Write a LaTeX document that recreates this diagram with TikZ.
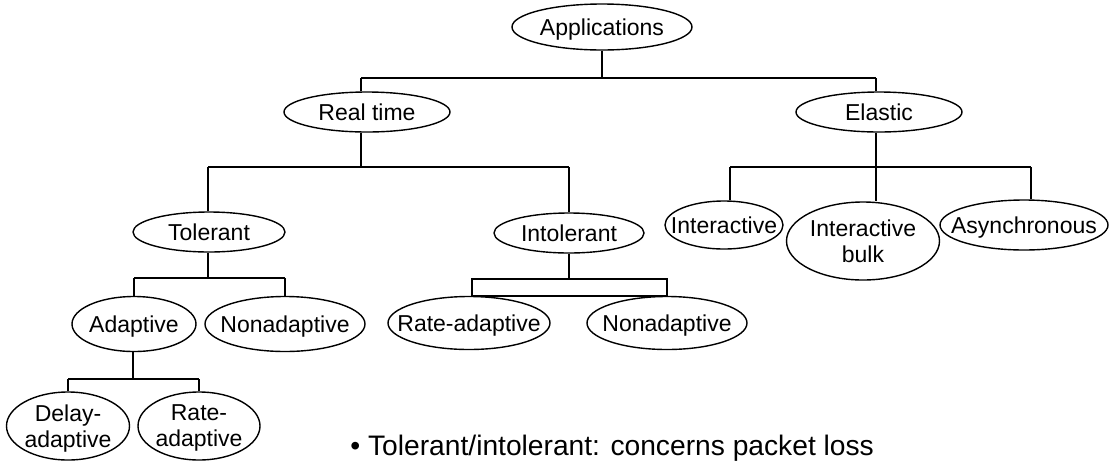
\documentclass[tikz,border=0pt]{standalone}
\usepackage{fontspec}
\setmainfont{Liberation Sans}
\usetikzlibrary{shapes.geometric}
% a label that does not widen its ellipse
\newcommand{\clslabel}[1]{\makebox[0pt][c]{#1}}
\begin{document}
\begin{tikzpicture}[x=0.5pt,y=-0.5pt,
  cls/.style={ellipse, draw, line width=0.7pt, inner sep=0pt, align=center,
    text depth=0pt, font=\fontsize{11.5}{13}\selectfont},
  sz/.style 2 args={minimum width=#1*0.5pt, minimum height=#2*0.5pt},
  link/.style={line width=0.7pt},
  note/.style={anchor=base west, inner sep=0pt, font=\fontsize{14.1}{16}\selectfont}]
\useasboundingbox (0,0) rectangle (1115,462);

% class nodes
\node[cls, sz={180}{46}] (app)      at (602,27)  {\clslabel{Applications}};
\node[cls, sz={166}{40}] (rt)       at (367,112) {\clslabel{Real time}};
\node[cls, sz={166}{40}] (el)       at (879,112) {\clslabel{Elastic}};
\node[cls, sz={152}{40}] (tol)      at (209,232) {\clslabel{Tolerant}};
\node[cls, sz={150}{40}] (intol)    at (569,233) {\clslabel{Intolerant}};
\node[cls, sz={118}{48}] (inter)    at (724,225) {\clslabel{Interactive}};
\node[cls, sz={153}{78}] (ibulk)    at (863,241) {\clslabel{Interactive}\\\clslabel{bulk}};
\node[cls, sz={168}{50}] (async)    at (1024,225) {\clslabel{Asynchronous}};
\node[cls, sz={124}{55}] (adap)     at (134,324) {\clslabel{Adaptive}};
\node[cls, sz={160}{55}] (nonadA)   at (285,324) {\clslabel{Nonadaptive}};
\node[cls, sz={162}{53}] (rateadap) at (469,323) {\clslabel{Rate-adaptive}};
\node[cls, sz={160}{53}] (nonadB)   at (667,323) {\clslabel{Nonadaptive}};
\node[cls, sz={123}{68}] (delay)    at (68,426)  {\clslabel{Delay-}\\\clslabel{adaptive}};
\node[cls, sz={122}{68}] (rateB)    at (199,426) {\clslabel{Rate-}\\\clslabel{adaptive}};

% bus coordinates
\coordinate (busA) at (602,78);
\coordinate (rtJ)  at (361,78);
\coordinate (elJ)  at (876,78);
\coordinate (busR) at (361,167);
\coordinate (tolJ) at (208,167);
\coordinate (busE) at (876,167);
\coordinate (eL)   at (730,167);
\coordinate (eR)   at (1031,167);
\coordinate (busT) at (208,278);
\coordinate (iTop) at (569,279);
\coordinate (iL)   at (472,279);
\coordinate (iR)   at (667,279);
\coordinate (busD) at (133,379);

% Applications
\draw[link] (app.south) -- (busA);
\draw[link] (rtJ) -- (elJ);
\draw[link] (rtJ) -- (rtJ |- rt.north);
\draw[link] (elJ) -- (elJ |- el.north);

% Real time
\draw[link] (busR |- rt.south) -- (busR);
\draw[link] (tolJ) -- (intol.north |- busR);
\draw[link] (tolJ) -- (tolJ |- tol.north);
\draw[link] (intol.north |- busR) -- (intol.north);

% Elastic
\draw[link] (busE |- el.south) -- (busE);
\draw[link] (eL) -- (eR);
\draw[link] (eL) -- (eL |- inter.north);
\draw[link] (busE) -- (busE |- ibulk.north);
\draw[link] (eR) -- (eR |- async.north);

% Tolerant
\draw[link] (busT |- tol.south) -- (busT);
\draw[link] (adap.north |- busT) -- (nonadA.north |- busT);
\draw[link] (adap.north |- busT) -- (adap.north);
\draw[link] (nonadA.north |- busT) -- (nonadA.north);

% Intolerant
\draw[link] (intol.south) -- (iTop);
\draw[link] (iL) rectangle (iR |- nonadB.north);

% Adaptive
\draw[link] (busD |- adap.south) -- (busD);
\draw[link] (delay.north |- busD) -- (rateB.north |- busD);
\draw[link] (delay.north |- busD) -- (delay.north);
\draw[link] (rateB.north |- busD) -- (rateB.north);

% remark
\node[note] (remark) at (350,455) {• Tolerant/intolerant: concerns packet loss};
\end{tikzpicture}
\end{document}
